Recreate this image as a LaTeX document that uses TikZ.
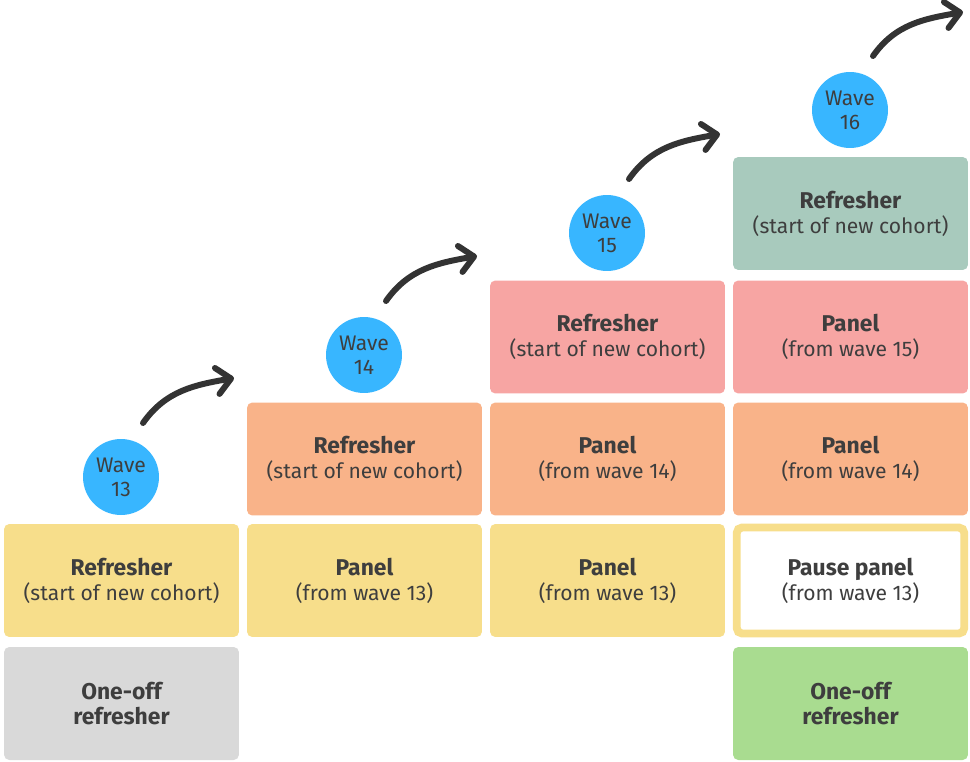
\documentclass[tikz,border=0pt]{standalone}
\usepackage{fontspec}
\setmainfont{Fira Sans}
\usetikzlibrary{arrows.meta}
\definecolor{cyel}{HTML}{F7DE8B}
\definecolor{cora}{HTML}{F9B389}
\definecolor{cpink}{HTML}{F7A5A3}
\definecolor{csage}{HTML}{A8CABD}
\definecolor{cgrey}{HTML}{D9D9D9}
\definecolor{cgreen}{HTML}{A9DC90}
\definecolor{cblue}{HTML}{38B6FF}
\definecolor{ctext}{HTML}{3E3E3E}
\definecolor{carrow}{HTML}{333333}
\newcommand{\hd}[1]{{\fontsize{13}{14}\selectfont\bfseries #1}}
\tikzset{
  box/.style={rounded corners=3pt, minimum width=4.7cm, minimum height=2.26cm, align=center,
    text=ctext, font=\fontsize{12}{14.2}\selectfont, inner sep=0pt},
  wave/.style={circle, fill=cblue, minimum size=1.52cm, inner sep=0pt, align=center,
    text=ctext, font=\fontsize{12}{13.6}\selectfont},
  conn/.style={draw=carrow, line width=3.4pt, line cap=round,
    -{Straight Barb[length=8pt,width=15pt,line cap=round,line join=round]}},
}
\begin{document}
\begin{tikzpicture}[x=0.02cm,y=-0.02cm]
\useasboundingbox (0,0) rectangle (970,761);
% column 1
\node[box, fill=cgrey] (c1a) at (121.5,703.5) {\hd{One-off}\\\hd{refresher}};
\node[box, fill=cyel] (c1b) at (121.5,580.5) {\hd{Refresher}\\(start of new cohort)};
\node[wave] (w13) at (121,477) {Wave\\13};
% column 2
\node[box, fill=cyel] (c2b) at (364.5,580.5) {\hd{Panel}\\(from wave 13)};
\node[box, fill=cora] (c2c) at (364.5,459) {\hd{Refresher}\\(start of new cohort)};
\node[wave] (w14) at (364,355) {Wave\\14};
% column 3
\node[box, fill=cyel] (c3b) at (607.5,580.5) {\hd{Panel}\\(from wave 13)};
\node[box, fill=cora] (c3c) at (607.5,459) {\hd{Panel}\\(from wave 14)};
\node[box, fill=cpink] (c3d) at (607.5,337) {\hd{Refresher}\\(start of new cohort)};
\node[wave] (w15) at (607,233) {Wave\\15};
% column 4
\node[box, fill=cgreen] (c4a) at (850.5,703.5) {\hd{One-off}\\\hd{refresher}};
\node[box, fill=white, draw=cyel, line width=4.5pt, minimum width=4.55cm, minimum height=2.12cm] (c4b) at (850.5,580.5) {\hd{Pause panel}\\(from wave 13)};
\node[box, fill=cora] (c4c) at (850.5,459) {\hd{Panel}\\(from wave 14)};
\node[box, fill=cpink] (c4d) at (850.5,337) {\hd{Panel}\\(from wave 15)};
\node[box, fill=csage] (c4e) at (850.5,213.5) {\hd{Refresher}\\(start of new cohort)};
\node[wave] (w16) at (850,110) {Wave\\16};
% arrows
\coordinate (s1) at (143,423); \coordinate (e1) at (234,378);
\coordinate (s2) at (386,301); \coordinate (e2) at (477,256);
\coordinate (s3) at (629,179); \coordinate (e3) at (720,134);
\coordinate (s4) at (873,56);  \coordinate (e4) at (963,12);
\draw[conn] (s1) to[out=55,in=190] (e1);
\draw[conn] (s2) to[out=55,in=190] (e2);
\draw[conn] (s3) to[out=55,in=190] (e3);
\draw[conn] (s4) to[out=55,in=190] (e4);
\end{tikzpicture}
\end{document}
